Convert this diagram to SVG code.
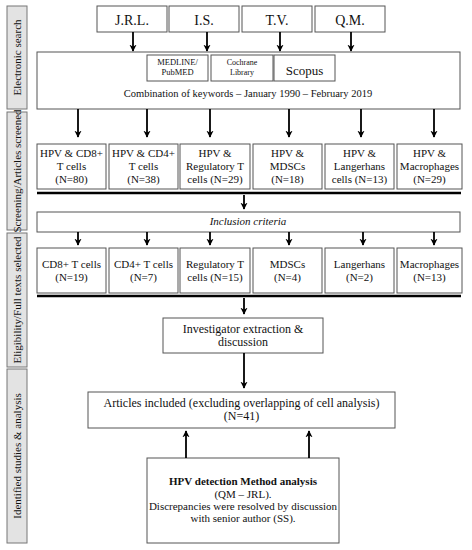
<svg xmlns="http://www.w3.org/2000/svg" width="472" height="550" viewBox="0 0 472 550" font-family="Liberation Serif, DejaVu Serif, serif">
<defs>
<marker id="ah" viewBox="0 0 10 10" refX="9" refY="5" markerWidth="4" markerHeight="4" orient="auto" markerUnits="strokeWidth">
<path d="M0,0 L10,5 L0,10 L3,5 Z" fill="#000"/>
</marker>
<style>
text{fill:#111;text-anchor:middle}
.box{fill:#fff;stroke:#555;stroke-width:1}
.side{fill:#e3e3e3;stroke:#777;stroke-width:1}
.st{font-size:11px}
.t14{font-size:14px}
.t11{font-size:11px}
.t12{font-size:12px}
.arr{stroke:#000;stroke-width:1.8;fill:none;marker-end:url(#ah)}
.thick{stroke:#000;stroke-width:2.5}
</style>
</defs>
<rect width="472" height="550" fill="#fff"/>

<g id="sidebars">
<rect class="side" x="7" y="6" width="20" height="103"/>
<text class="st" transform="translate(21,57.5) rotate(-90)">Electronic search</text>
<rect class="side" x="7" y="112" width="20" height="118"/>
<text class="st" transform="translate(21,171) rotate(-90)">Screening/Articles screened</text>
<rect class="side" x="7" y="233" width="20" height="134"/>
<text class="st" transform="translate(21,300) rotate(-90)">Eligibility/Full texts selected</text>
<rect class="side" x="7" y="369" width="20" height="174"/>
<text class="st" transform="translate(21,456) rotate(-90)">Identified studies &amp; analysis</text>
</g>

<g id="n_jrl"><rect class="box" x="97" y="6" width="70" height="26"/><text class="t14" x="132" y="25">J.R.L.</text></g>
<g id="n_is"><rect class="box" x="169" y="6" width="70" height="26"/><text class="t14" x="204" y="25">I.S.</text></g>
<g id="n_tv"><rect class="box" x="242" y="6" width="70" height="26"/><text class="t14" x="277" y="25">T.V.</text></g>
<g id="n_qm"><rect class="box" x="315" y="6" width="70" height="26"/><text class="t14" x="350" y="25">Q.M.</text></g>

<g id="n_search">
<rect class="box" x="37" y="52" width="423" height="57"/>
<rect class="box" x="147" y="55" width="61" height="26"/>
<text x="177.5" y="65" style="font-size:8.5px">MEDLINE/</text>
<text x="177.5" y="75" style="font-size:8.5px">PubMED</text>
<rect class="box" x="211" y="55" width="62" height="26"/>
<text x="242" y="65" style="font-size:8px">Cochrane</text>
<text x="242" y="75" style="font-size:8px">Library</text>
<rect class="box" x="274" y="55" width="61" height="26"/>
<text x="304.5" y="75" style="font-size:13px">Scopus</text>
<text x="248" y="97" style="font-size:10.5px">Combination of keywords – January 1990 – February 2019</text>
</g>

<g id="n_s1"><rect class="box" x="37" y="144" width="69" height="45"/><text class="t11" x="71.5" y="157">HPV &amp; CD8+</text><text class="t11" x="71.5" y="170">T cells</text><text class="t11" x="71.5" y="183">(N=80)</text></g>
<g id="n_s2"><rect class="box" x="109" y="144" width="69" height="45"/><text class="t11" x="143.5" y="157">HPV &amp; CD4+</text><text class="t11" x="143.5" y="170">T cells</text><text class="t11" x="143.5" y="183">(N=38)</text></g>
<g id="n_s3"><rect class="box" x="180" y="144" width="70" height="45"/><text class="t11" x="215" y="157">HPV &amp;</text><text class="t11" x="215" y="170">Regulatory T</text><text class="t11" x="215" y="183">cells (N=29)</text></g>
<g id="n_s4"><rect class="box" x="253" y="144" width="69" height="45"/><text class="t11" x="287.5" y="157">HPV &amp;</text><text class="t11" x="287.5" y="170">MDSCs</text><text class="t11" x="287.5" y="183">(N=18)</text></g>
<g id="n_s5"><rect class="box" x="325" y="144" width="69" height="45"/><text class="t11" x="359.5" y="157">HPV &amp;</text><text class="t11" x="359.5" y="170">Langerhans</text><text class="t11" x="359.5" y="183">cells (N=13)</text></g>
<g id="n_s6"><rect class="box" x="397" y="144" width="65" height="45"/><text class="t11" x="429.5" y="157">HPV &amp;</text><text class="t11" x="429.5" y="170">Macrophages</text><text class="t11" x="429.5" y="183">(N=29)</text></g>

<g id="n_incl"><rect class="box" x="37" y="212" width="423" height="20"/><text class="t11" x="248" y="225" font-style="italic">Inclusion criteria</text></g>

<g id="n_e1"><rect class="box" x="37" y="248" width="69" height="45"/><text class="t11" x="71.5" y="268">CD8+ T cells</text><text class="t11" x="71.5" y="281">(N=19)</text></g>
<g id="n_e2"><rect class="box" x="109" y="248" width="69" height="45"/><text class="t11" x="143.5" y="268">CD4+ T cells</text><text class="t11" x="143.5" y="281">(N=7)</text></g>
<g id="n_e3"><rect class="box" x="180" y="248" width="70" height="45"/><text class="t11" x="215" y="268">Regulatory T</text><text class="t11" x="215" y="281">cells (N=15)</text></g>
<g id="n_e4"><rect class="box" x="253" y="248" width="69" height="45"/><text class="t11" x="287.5" y="268">MDSCs</text><text class="t11" x="287.5" y="281">(N=4)</text></g>
<g id="n_e5"><rect class="box" x="325" y="248" width="69" height="45"/><text class="t11" x="359.5" y="268">Langerhans</text><text class="t11" x="359.5" y="281">(N=2)</text></g>
<g id="n_e6"><rect class="box" x="397" y="248" width="65" height="45"/><text class="t11" x="429.5" y="268">Macrophages</text><text class="t11" x="429.5" y="281">(N=13)</text></g>

<g id="n_inv"><rect class="box" x="163" y="318" width="160" height="35"/><text class="t12" x="243" y="333">Investigator extraction &amp;</text><text class="t12" x="243" y="346">discussion</text></g>

<g id="n_art"><rect class="box" x="88" y="392" width="307" height="36"/><text class="t12" x="241.5" y="407">Articles included (excluding overlapping of cell analysis)</text><text class="t12" x="241.5" y="420">(N=41)</text></g>

<g id="n_hpv"><rect class="box" x="147" y="458" width="192" height="85"/>
<text class="t11" x="243" y="485" font-weight="bold">HPV detection Method analysis</text>
<text class="t11" x="243" y="498">(QM – JRL).</text>
<text class="t11" x="243" y="510">Discrepancies were resolved by discussion</text>
<text class="t11" x="243" y="522">with senior author (SS).</text>
</g>

<g id="connectors">
<line class="thick" x1="37" y1="193" x2="461" y2="193"/>
<line class="thick" x1="37" y1="296" x2="461" y2="296"/>
<line class="arr" x1="133" y1="32" x2="133" y2="51"/>
<line class="arr" x1="207" y1="32" x2="207" y2="51"/>
<line class="arr" x1="280" y1="32" x2="280" y2="51"/>
<line class="arr" x1="351" y1="32" x2="351" y2="51"/>
<line class="arr" x1="78" y1="109" x2="78" y2="137"/>
<line class="arr" x1="147" y1="109" x2="147" y2="137"/>
<line class="arr" x1="210" y1="109" x2="210" y2="137"/>
<line class="arr" x1="289" y1="109" x2="289" y2="137"/>
<line class="arr" x1="361" y1="109" x2="361" y2="137"/>
<line class="arr" x1="434" y1="109" x2="434" y2="137"/>
<line class="arr" x1="244" y1="195" x2="244" y2="209"/>
<line class="arr" x1="78" y1="232" x2="78" y2="245"/>
<line class="arr" x1="147" y1="232" x2="147" y2="245"/>
<line class="arr" x1="210" y1="232" x2="210" y2="245"/>
<line class="arr" x1="289" y1="232" x2="289" y2="245"/>
<line class="arr" x1="363" y1="232" x2="363" y2="245"/>
<line class="arr" x1="434" y1="232" x2="434" y2="245"/>
<line class="arr" x1="244" y1="298" x2="244" y2="314"/>
<line class="arr" x1="244" y1="353" x2="244" y2="388"/>
<line class="arr" x1="186" y1="458" x2="186" y2="431"/>
<line class="arr" x1="309" y1="458" x2="309" y2="431"/>
</g>
</svg>
